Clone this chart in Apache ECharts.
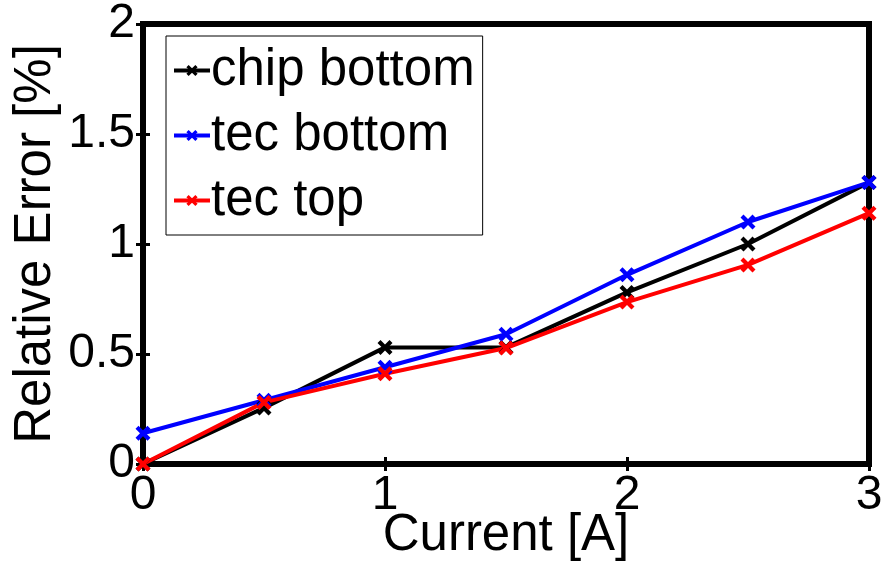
<!DOCTYPE html>
<html>
<head>
<meta charset="utf-8">
<script src="https://cdn.jsdelivr.net/npm/echarts@6/dist/echarts.min.js"></script>
<style>
html,body{margin:0;padding:0;background:#fff;}
#chart{width:888px;height:569px;}
</style>
</head>
<body>
<div id="chart"></div>
<script>
var current = [0, 0.5, 1, 1.5, 2, 2.5, 3];
var chipBottom = [0, 0.255, 0.53, 0.53, 0.78, 1.0, 1.28];
var tecBottom = [0.14, 0.29, 0.44, 0.59, 0.86, 1.10, 1.28];
var tecTop = [0, 0.28, 0.41, 0.527, 0.736, 0.905, 1.14];
var names = ['chip bottom', 'tec bottom', 'tec top'];
var colors = ['#000000', '#0000ff', '#ff0000'];

// filled x marker
var cross = 'path://M0,2L2,0L5,3L8,0L10,2L7,5L10,8L8,10L5,7L2,10L0,8L3,5Z';
var font = 'Liberation Sans';

function pairs(ys) {
	var out = [];
	for (var i = 0; i < current.length; i++) out.push([current[i], ys[i]]);
	return out;
}

function line(name, ys, color) {
	return {
		name: name,
		type: 'line',
		data: pairs(ys),
		symbol: cross,
		symbolSize: 15,
		clip: false,
		lineStyle: {color: color, width: 4},
		itemStyle: {color: color},
		emphasis: {disabled: true},
		animation: false
	};
}

var chart = echarts.init(document.getElementById('chart'));
var option = {
	backgroundColor: '#fff',
	textStyle: {fontFamily: font},
	grid: {left: 143, right: 19, top: 24, bottom: 105, outerBoundsMode: 'none', containLabel: false,
		show: true, borderColor: '#000', borderWidth: 6},
	legend: {
		orient: 'vertical',
		left: 166,
		top: 36,
		padding: [9, 8, 9, 6],
		itemGap: 14,
		itemWidth: 36,
		itemHeight: 14,
		borderColor: '#000',
		borderWidth: 1,
		backgroundColor: '#fff',
		lineStyle: {width: 4},
		textStyle: {fontSize: 51, color: '#000', fontFamily: font, padding: [0, 0, 0, -4]},
		data: names
	},
	xAxis: [{
		type: 'value', min: 0, max: 3, interval: 1, position: 'bottom',
		name: 'Current [A]', nameLocation: 'middle', nameGap: 46, nameMoveOverlap: false,
		nameTextStyle: {fontSize: 51, color: '#000', fontFamily: font},
		axisLine: {show: false},
		axisTick: {show: true, inside: true, length: 7, lineStyle: {color: '#000', width: 3}},
		axisLabel: {fontSize: 48, color: '#000', margin: 8, fontFamily: font},
		splitLine: {show: false}
	}, {
		type: 'value', min: 0, max: 3, interval: 1, position: 'top',
		axisLine: {show: false},
		axisTick: {show: true, inside: true, length: 7, lineStyle: {color: '#000', width: 3}},
		axisLabel: {show: false},
		splitLine: {show: false}
	}],
	yAxis: [{
		type: 'value', min: 0, max: 2, interval: 0.5, position: 'left',
		name: 'Relative Error [%]', nameLocation: 'middle', nameGap: 82, nameMoveOverlap: false,
		nameTextStyle: {fontSize: 51, color: '#000', fontFamily: font},
		axisLine: {show: false},
		axisTick: {show: true, inside: true, length: 7, lineStyle: {color: '#000', width: 3}},
		axisLabel: {fontSize: 48, color: '#000', margin: 8, fontFamily: font},
		splitLine: {show: false}
	}, {
		type: 'value', min: 0, max: 2, interval: 0.5, position: 'right',
		axisLine: {show: false},
		axisTick: {show: true, inside: true, length: 7, lineStyle: {color: '#000', width: 3}},
		axisLabel: {show: false},
		splitLine: {show: false}
	}],
	series: [
		line(names[0], chipBottom, colors[0]),
		line(names[1], tecBottom, colors[1]),
		line(names[2], tecTop, colors[2])
	]
};
chart.setOption(option);
</script>
</body>
</html>
